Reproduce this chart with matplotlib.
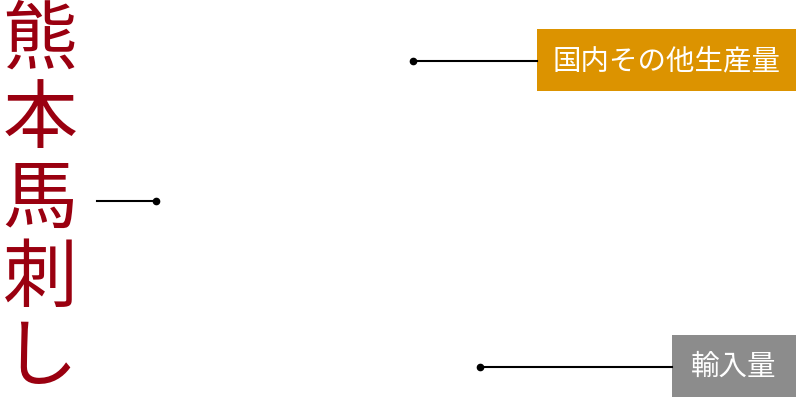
import matplotlib.pyplot as plt

plt.rcParams['font.family'] = ['Noto Sans CJK JP', 'DejaVu Sans']

title_chars = ['熊', '本', '馬', '刺', 'し']
labels = ['国内その他生産量', '輸入量']
label_colors = ['#dc9300', '#8c8c8c']

fig = plt.figure(figsize=(7.96, 4.02), dpi=100)
ax = fig.add_axes([0, 0, 1, 1])
ax.set_xlim(0, 796)
ax.set_ylim(402, 0)
ax.axis('off')

# vertical title
for i, ch in enumerate(title_chars):
    ax.text(40, 41 + i * 79.5, ch, fontsize=54, color='#9a0010',
            ha='center', va='center')

# pointer from the title
ax.plot([97, 156], [202, 202], color='black', lw=1.5)
ax.plot(156, 202, 'o', color='black', ms=4.5)

# callouts: dot x, line y, box left, box top
callouts = [(413, 62, 537, 30), (480, 368, 672, 336)]
for (dx, ly, bx, by), lab, col in zip(callouts, labels, label_colors):
    ax.plot([dx, bx], [ly, ly], color='black', lw=1.5)
    ax.plot(dx, ly, 'o', color='black', ms=4.5)
    ax.add_patch(plt.Rectangle((bx, by), 796 - bx, 62, color=col, lw=0))
    ax.text((bx + 796) / 2, by + 31, lab, fontsize=20.5, color='white',
            ha='center', va='center')

fig.savefig('out.png', dpi=100)
